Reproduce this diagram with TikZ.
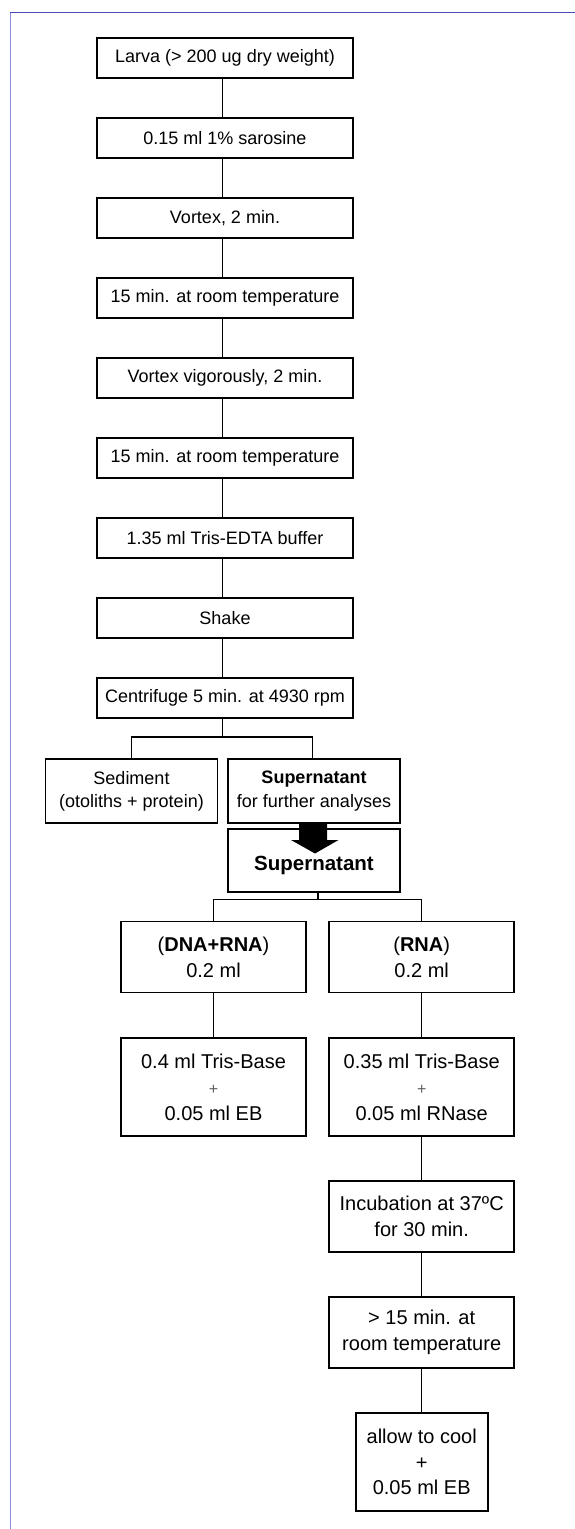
\documentclass[tikz,border=0pt]{standalone}
\usepackage{fontspec}
\setmainfont{Liberation Sans}
\definecolor{frametop}{HTML}{4A4ABF}
\definecolor{frameleft}{HTML}{8C8CDC}
\definecolor{plusgray}{HTML}{606060}
\newcommand{\smallplus}{{\fontsize{16}{26}\selectfont\textcolor{plusgray}{+}}}
\begin{document}
\begin{tikzpicture}[x=1pt,y=-1pt,
  box/.style={draw=black, line width=1.9pt, inner sep=1pt, align=center, outer sep=0pt},
  mainbox/.style={box, minimum width=256pt, minimum height=40pt, font=\fontsize{18}{23.3}\selectfont},
  midbox/.style={box, minimum width=172pt, minimum height=64pt, font=\fontsize{18}{23.3}\selectfont},
  lowbox/.style={box, minimum width=185pt, font=\fontsize{20}{26}\selectfont},
  link/.style={draw=black, line width=1.5pt}]
\useasboundingbox (0,0) rectangle (575,1529);
\fill[white] (0,0) rectangle (575,1529);
% frame
\draw[frameleft, line width=1.5pt] (10.5,1529) -- (10.5,12.5);
\draw[frametop, line width=1.5pt] (10,12.5) -- (575,12.5);
% main column
\node[mainbox] (m1) at (225,58) {Larva (> 200 ug dry weight)};
\node[mainbox] (m2) at (225,138) {0.15 ml 1\% sarosine};
\node[mainbox] (m3) at (225,218) {Vortex, 2 min.};
\node[mainbox] (m4) at (225,298) {15 min. at room temperature};
\node[mainbox] (m5) at (225,378) {Vortex vigorously, 2 min.};
\node[mainbox] (m6) at (225,458) {15 min. at room temperature};
\node[mainbox] (m7) at (225,538) {1.35 ml Tris-EDTA buffer};
\node[mainbox] (m8) at (225,618) {Shake};
\node[mainbox] (m9) at (225,698) {Centrifuge 5 min. at 4930 rpm};
\foreach \a/\b in {m1/m2,m2/m3,m3/m4,m4/m5,m5/m6,m6/m7,m7/m8,m8/m9}
  \draw[link] ([xshift=-2.3pt]\a.south) -- ([xshift=-2.3pt]\b.north);
% first split
\node[midbox] (sed) at (131.5,791) {Sediment\\(otoliths + protein)};
\node[midbox] (sup) at (314,791) {\textbf{Supernatant}\\for further analyses};
\coordinate (j1) at (222.7,737);
\draw[link] ([xshift=-2.3pt]m9.south) -- (j1);
\draw[link] (sed.north) |- (j1) -| ([xshift=-1.7pt]sup.north);
% big supernatant
\node[box, minimum width=172pt, minimum height=63pt, font=\fontsize{20.5}{26}\selectfont\bfseries] (big) at (314,860.5) {\\[-1pt]Supernatant};
\fill[black] (299,822) -- (327,822) -- (327,840) -- (338.5,840) -- (315,853.5) -- (291,840) -- (299,840) -- cycle;
% second split
\node[lowbox, minimum height=71pt] (dna) at (213.5,957) {(\textbf{DNA+RNA})\\0.2 ml};
\node[lowbox, minimum height=71pt] (rna) at (421.7,957) {(\textbf{RNA})\\0.2 ml};
\coordinate (j2) at (318,899.5);
\draw[link] (big.south -| j2) -- (j2);
\draw[link] (dna.north) |- (j2) -| (rna.north);
% lower boxes
\node[lowbox, minimum height=98pt] (tb1) at (213.5,1087) {0.4 ml Tris-Base\\\smallplus\\0.05 ml EB};
\node[lowbox, minimum height=98pt] (tb2) at (421.7,1087) {0.35 ml Tris-Base\\\smallplus\\0.05 ml RNase};
\node[lowbox, minimum height=71pt] (inc) at (421.7,1216.5) {Incubation at 37ºC\\for 30 min.};
\node[lowbox, minimum height=71pt] (rt) at (421.7,1332.5) {> 15 min. at\\room temperature};
\node[box, minimum width=132pt, minimum height=98pt, font=\fontsize{20}{25.5}\selectfont] (cool) at (421.7,1462) {allow to cool\\+\\0.05 ml EB};
\draw[link] (dna) -- (tb1);
\draw[link] (rna) -- (tb2);
\draw[link] (tb2) -- (inc);
\draw[link] (inc) -- (rt);
\draw[link] (rt) -- (cool);
\end{tikzpicture}
\end{document}
